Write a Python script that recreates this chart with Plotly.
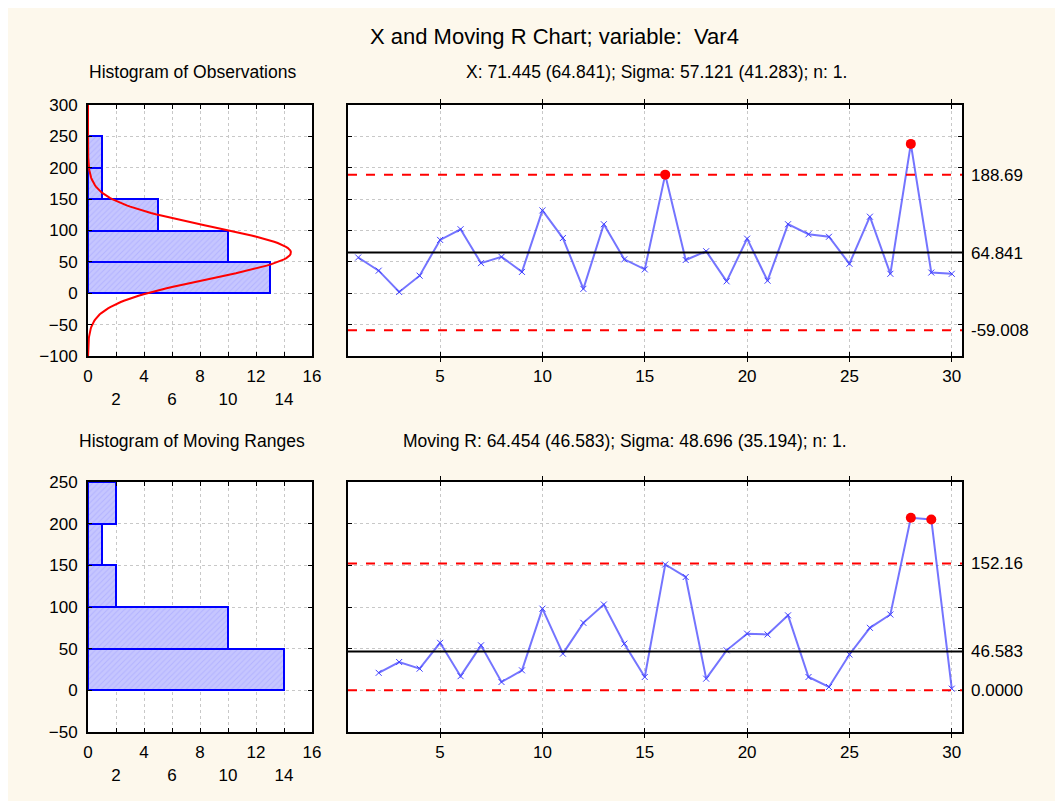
import plotly.graph_objects as go
import math

# ---------------- data ----------------
samples = list(range(1, 31))
x_values = [57, 36, 2, 28, 85, 102, 48, 58, 34, 132, 88, 7, 110, 54, 38,
            189, 53, 67, 19, 87, 20, 110, 94, 90, 47, 122, 31, 238, 33, 31]
mr_samples = list(range(2, 31))
mr_values = [21, 34, 26, 57, 17, 54, 10, 24, 98, 44, 81, 103, 56, 16, 151,
             136, 14, 48, 68, 67, 90, 16, 4, 43, 75, 91, 207, 205, 2]

x_ucl, x_cl, x_lcl = 188.69, 64.841, -59.008
x_ucl_lbl, x_cl_lbl, x_lcl_lbl = "188.69", "64.841", "-59.008"
r_ucl, r_cl, r_lcl = 152.16, 46.583, 0.0
r_ucl_lbl, r_cl_lbl, r_lcl_lbl = "152.16", "46.583", "0.0000"

obs_bin_lo = [0, 50, 100, 150, 200]
obs_counts = [13, 10, 5, 1, 1]
mr_bin_lo = [0, 50, 100, 150, 200]
mr_counts = [14, 10, 2, 1, 2]
bin_width = 50

fit_mean, fit_sigma, n_obs = 64.841, 41.283, 30

title_main = "X and Moving R Chart; variable:  Var4"
title_h1 = "Histogram of Observations"
title_c1 = "X: 71.445 (64.841); Sigma: 57.121 (41.283); n: 1."
title_h2 = "Histogram of Moving Ranges"
title_c2 = "Moving R: 64.454 (46.583); Sigma: 48.696 (35.194); n: 1."

hist_ticks = list(range(0, 17, 2))
hist_ticktext = [str(t) if t % 4 == 0 else "<br>" + str(t) for t in hist_ticks]
chart_ticks = [5, 10, 15, 20, 25, 30]

# ---------------- style ----------------
W, H = 1063, 801
OX, OY = 7, 8          # page offset of the figure inside the screenshot
FONT = "Liberation Sans, Arial, sans-serif"
BG = "#fdf8ec"
GRID = "#c8c8c8"
BLUE_LINE = "rgba(70,70,255,0.75)"
TICK_SIZE = 17


def px_x(a, b):
    return [(a - OX) / W, (b - OX) / W]


def px_y(top, bottom):
    return [1 - (bottom - OY) / H, 1 - (top - OY) / H]


dom_hx = px_x(87, 311)
dom_cx = px_x(347, 961)
dom_top = px_y(105, 356)
dom_bot = px_y(482, 732)

fig = go.Figure()

bar_marker = dict(color="#c6c6ff",
                  line=dict(color="#0000ff", width=2),
                  pattern=dict(shape="/", fgcolor="#a0a0ff", size=4, solidity=0.25))

# histogram of observations
fig.add_trace(go.Bar(x=obs_counts, y=[b + bin_width / 2 for b in obs_bin_lo],
                     width=bin_width, orientation="h", marker=bar_marker,
                     xaxis="x", yaxis="y", showlegend=False))
# fitted normal curve
cy = [-100 + i * 2 for i in range(201)]
cx = [n_obs * bin_width / (fit_sigma * math.sqrt(2 * math.pi)) *
      math.exp(-0.5 * ((v - fit_mean) / fit_sigma) ** 2) for v in cy]
fig.add_trace(go.Scatter(x=cx, y=cy, mode="lines", line=dict(color="#ff0000", width=2),
                         xaxis="x", yaxis="y", showlegend=False))

point_marker = dict(symbol="x-thin", size=6, line=dict(color="#4040ff", width=1))

# X chart
fig.add_trace(go.Scatter(x=samples, y=x_values, mode="lines+markers",
                         line=dict(color=BLUE_LINE, width=2), marker=point_marker,
                         xaxis="x2", yaxis="y2", showlegend=False))
x_out = [(s, v) for s, v in zip(samples, x_values) if v > x_ucl or v < x_lcl]
fig.add_trace(go.Scatter(x=[s for s, _ in x_out], y=[v for _, v in x_out], mode="markers",
                         marker=dict(color="#ff0000", size=10),
                         xaxis="x2", yaxis="y2", showlegend=False))
# anchor trace so the right-hand limit axis is drawn
fig.add_trace(go.Scatter(x=[samples[0]], y=[x_cl], mode="markers", opacity=0,
                         hoverinfo="skip", xaxis="x2", yaxis="y3", showlegend=False))

# histogram of moving ranges
fig.add_trace(go.Bar(x=mr_counts, y=[b + bin_width / 2 for b in mr_bin_lo],
                     width=bin_width, orientation="h", marker=bar_marker,
                     xaxis="x3", yaxis="y4", showlegend=False))

# MR chart
fig.add_trace(go.Scatter(x=mr_samples, y=mr_values, mode="lines+markers",
                         line=dict(color=BLUE_LINE, width=2), marker=point_marker,
                         xaxis="x4", yaxis="y5", showlegend=False))
r_out = [(s, v) for s, v in zip(mr_samples, mr_values) if v > r_ucl or v < r_lcl]
fig.add_trace(go.Scatter(x=[s for s, _ in r_out], y=[v for _, v in r_out], mode="markers",
                         marker=dict(color="#ff0000", size=10),
                         xaxis="x4", yaxis="y5", showlegend=False))
fig.add_trace(go.Scatter(x=[mr_samples[0]], y=[r_cl], mode="markers", opacity=0,
                         hoverinfo="skip", xaxis="x4", yaxis="y6", showlegend=False))

# control lines
shapes = []
for xref, yref, ucl, cl, lcl in [("x2", "y2", x_ucl, x_cl, x_lcl), ("x4", "y5", r_ucl, r_cl, r_lcl)]:
    for val, col, dash in [(ucl, "#ff0000", "dash"), (lcl, "#ff0000", "dash"), (cl, "#000000", "solid")]:
        shapes.append(dict(type="line", xref=xref + " domain", yref=yref, x0=0, x1=1,
                           y0=val, y1=val, line=dict(color=col, width=2, dash=dash), layer="above"))

axis_common = dict(showline=True, linecolor="black", linewidth=2, mirror="allticks",
                   ticks="inside", ticklen=4, tickcolor="black", tickwidth=1,
                   showgrid=True, gridcolor=GRID, griddash="dot", gridwidth=1,
                   zeroline=False, automargin=False,
                   tickfont=dict(family=FONT, size=TICK_SIZE, color="black"))
limit_axis = dict(side="right", showgrid=False, zeroline=False, showline=False, ticks="",
                  automargin=False, ticklabelstandoff=8,
                  tickfont=dict(family=FONT, size=TICK_SIZE, color="black"))

fig.update_layout(
    width=W, height=H, margin=dict(l=0, r=0, t=0, b=0, pad=0),
    paper_bgcolor=BG, plot_bgcolor="white", bargap=0,
    font=dict(family=FONT, color="black"),
    shapes=shapes,
    xaxis=dict(axis_common, domain=dom_hx, anchor="y", range=[0, 16],
               tickvals=hist_ticks, ticktext=hist_ticktext, ticklabelstandoff=4),
    yaxis=dict(axis_common, domain=dom_top, anchor="x", range=[-100, 300],
               tickvals=list(range(-100, 301, 50)), ticklabelstandoff=5),
    xaxis2=dict(axis_common, domain=dom_cx, anchor="y2", range=[0.5, 30.5],
                tickvals=chart_ticks, ticklabelstandoff=4),
    yaxis2=dict(axis_common, domain=dom_top, anchor="x2", range=[-100, 300],
                tickvals=list(range(-100, 301, 50)), showticklabels=False),
    yaxis3=dict(limit_axis, overlaying="y2", anchor="x2", range=[-100, 300],
                tickvals=[x_lcl, x_cl, x_ucl], ticktext=[x_lcl_lbl, x_cl_lbl, x_ucl_lbl]),
    xaxis3=dict(axis_common, domain=dom_hx, anchor="y4", range=[0, 16],
                tickvals=hist_ticks, ticktext=hist_ticktext, ticklabelstandoff=4),
    yaxis4=dict(axis_common, domain=dom_bot, anchor="x3", range=[-50, 250],
                tickvals=list(range(-50, 251, 50)), ticklabelstandoff=5),
    xaxis4=dict(axis_common, domain=dom_cx, anchor="y5", range=[0.5, 30.5],
                tickvals=chart_ticks, ticklabelstandoff=4),
    yaxis5=dict(axis_common, domain=dom_bot, anchor="x4", range=[-50, 250],
                tickvals=list(range(-50, 251, 50)), showticklabels=False),
    yaxis6=dict(limit_axis, overlaying="y5", anchor="x4", range=[-50, 250],
                tickvals=[r_lcl, r_cl, r_ucl], ticktext=[r_lcl_lbl, r_cl_lbl, r_ucl_lbl]),
)

ann = [
    (title_main, 553, 37, 22, "center"),
    (title_h1, 191, 72, 17.5, "center"),
    (title_c1, 848, 72, 17.5, "right"),
    (title_h2, 191, 441, 17.5, "center"),
    (title_c2, 848, 441, 17.5, "right"),
]
for text, cxp, cyp, size, anchor in ann:
    fig.add_annotation(text=text, xref="paper", yref="paper",
                       x=(cxp - OX) / W, y=1 - (cyp - OY) / H,
                       xanchor=anchor, yanchor="middle", showarrow=False,
                       font=dict(family=FONT, size=size, color="black"))

fig.write_html("out.html")
